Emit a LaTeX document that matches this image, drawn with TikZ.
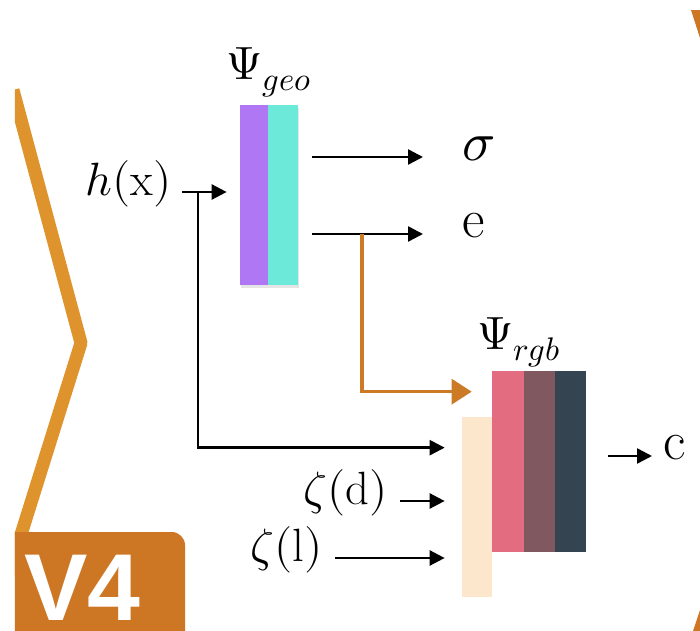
\documentclass[tikz,border=0pt]{standalone}
\usepackage{fontspec}
\usepackage{unicode-math}
\setmathfont{Latin Modern Math}
\usepackage{tikz}
\usetikzlibrary{arrows.meta, positioning, calc, fit, shadows}
\newfontfamily\badgefont{Liberation Sans}
\definecolor{geoviolet}{RGB}{176, 119, 245}
\definecolor{geocyan}{RGB}{109, 233, 217}
\definecolor{condbeige}{RGB}{252, 230, 204}
\definecolor{rgbpink}{RGB}{227, 108, 128}
\definecolor{rgbmauve}{RGB}{127, 88, 96}
\definecolor{rgbslate}{RGB}{52, 68, 81}
\definecolor{featorange}{RGB}{205, 122, 38}
\definecolor{chevorange}{RGB}{222, 147, 44}
\definecolor{badgeorange}{RGB}{205, 119, 36}
\tikzset{
  font=\fontsize{28}{32}\selectfont,
  layer/.style={rectangle, inner sep=0pt, draw=none},
  geoblock/.style={layer, drop shadow={opacity=0.2, shadow xshift=0.6pt, shadow yshift=-1.6pt}},
  sym/.style={inner sep=2pt, text height=0.7em, text depth=0.25em},
  outsym/.style={sym, font=\fontsize{33}{36}\selectfont},
  flowline/.style={draw=black, line width=1.5pt, -{Triangle[length=9pt, width=9pt]}},
  featline/.style={draw=featorange, line width=2pt, -{Triangle[length=12pt, width=15pt]}},
  chevron/.style={draw=chevorange, line width=7.8pt, line join=round}
}

\begin{document}
\begin{tikzpicture}[x=0.6pt, y=-0.6pt]
  \useasboundingbox[fill=white] (0,0) rectangle (700,631);

  % Frame decorations (clipped to the page)
  \begin{scope}
    \clip (15,10) rectangle (700,631);
    \draw[chevron] (13,90) -- (81,343) -- (-12,640);
    \fill[badgeorange] (691,10) -- (710,10) -- (710,69) -- cycle;
    \fill[badgeorange] (693,631) -- (702,604) -- (710,604) -- (710,631) -- cycle;
    \fill[badgeorange, rounded corners=8pt] (0,532) rectangle (185,660);
  \end{scope}
  \node[anchor=base west, inner sep=0pt, text=white, font=\badgefont\bfseries\fontsize{57}{60}\selectfont] (badge) at (24,620) {V4};

  % Geometry network
  \node[geoblock, fill=geoviolet, fit={(240,105) (268,285)}] (geoL) {};
  \node[geoblock, fill=geocyan, fit={(268,105) (298,285)}] (geoR) {};
  \node[anchor=base] (geoLabel) at (269,79) {$\Psi_{geo}$};

  % Color network
  \node[layer, fill=condbeige, fit={(462,417) (492,597)}] (cond) {};
  \node[layer, fill=rgbpink, fit={(492,371) (524,552)}] (rgbL) {};
  \node[layer, fill=rgbmauve, fit={(524,371) (555,552)}] (rgbM) {};
  \node[layer, fill=rgbslate, fit={(555,371) (586,552)}] (rgbR) {};
  \node[anchor=base] (rgbLabel) at (519,349) {$\Psi_{rgb}$};

  % Inputs and outputs
  \node[sym, anchor=east] (hx) at (175,192) {$h(\mathrm{x})$};
  \node[outsym, anchor=west] (sigmaOut) at (459,157) {$\sigma$};
  \node[outsym, anchor=west] (eOut) at (459,234) {$\mathrm{e}$};
  \node[sym, anchor=east] (zetaD) at (391,501) {$\zeta(\mathrm{d})$};
  \node[sym, anchor=east] (zetaL) at (326,558) {$\zeta(\mathrm{l})$};
  \node[outsym, anchor=west] (cOut) at (660,456) {$\mathrm{c}$};

  % Junctions
  \coordinate (split) at (198,192);
  \coordinate (branch) at (362,234);
  \coordinate (hPort) at ([yshift=-18.6pt]cond.north west);
  \coordinate (ePort) at ([yshift=-12.6pt]rgbL.north west);

  % Connections
  \draw[flowline, shorten <=4.2pt, shorten >=7.8pt] (hx.east) -- (hx.east -| geoL.west);
  \draw[flowline, shorten >=10.2pt] (split) |- (hPort);
  \draw[flowline, shorten <=8.4pt, shorten >=21.6pt] (geoR.east |- sigmaOut) -- (sigmaOut.west);
  \draw[flowline, shorten <=8.4pt, shorten >=21.6pt] (geoR.east |- eOut) -- (eOut.west);
  \draw[featline, shorten >=12pt] (branch) |- (ePort);
  \draw[flowline, shorten <=5.4pt, shorten >=10.2pt] (zetaD.east) -- (zetaD.east -| cond.west);
  \draw[flowline, shorten <=5.4pt, shorten >=10.2pt] (zetaL.east) -- (zetaL.east -| cond.west);
  \draw[flowline, shorten <=13.2pt, shorten >=4.8pt] (rgbR.east |- cOut) -- (cOut.west);
\end{tikzpicture}
\end{document}
